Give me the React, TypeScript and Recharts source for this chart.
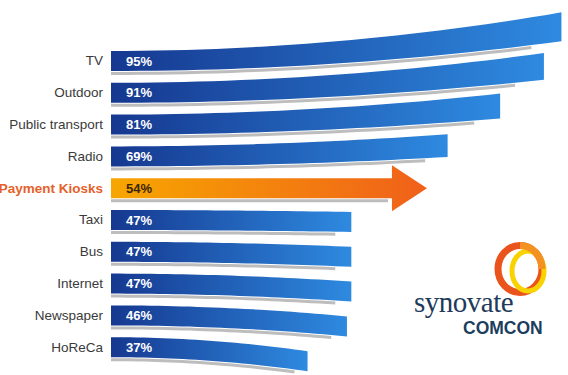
import { BarChart, Bar, XAxis, YAxis } from "recharts";

const categories = ["TV", "Outdoor", "Public transport", "Radio", "Payment Kiosks", "Taxi", "Bus", "Internet", "Newspaper", "HoReCa"];
const shares = [95, 91, 81, 69, 54, 47, 47, 47, 46, 37];
const highlight = "Payment Kiosks";

const data = categories.map((name, i) => ({ name, share: shares[i] }));
const hiIndex = categories.indexOf(highlight);
const FONT = "'Liberation Sans', Arial, sans-serif";

// how much each ribbon bends at its right end (fan effect around the highlighted row)
function bend(index: number) {
  const d = index - hiIndex;
  if (d < 0) return -(3 + 7.8 * -d);
  if (d > 0) return 3 * d - 1;
  return 0;
}

function RibbonBar(props: any) {
  const { x, y, width, height, index, background, payload } = props;
  const x0 = background.x;
  const x1 = x + width;
  const yc = y + height / 2;
  const h0 = height / 2;

  if (payload.name === highlight) {
    const hb = x1 + 10;
    const tip = x1 + 45;
    const d = `M${x0},${yc - h0} L${hb},${yc - h0} L${hb},${yc - 23} L${tip},${yc} L${hb},${yc + 23} L${hb},${yc + h0} L${x0},${yc + h0} Z`;
    return (
      <g>
        <defs>
          <linearGradient id="grad-hi" x1="0" y1="0" x2="1" y2="0">
            <stop offset="0%" stopColor="#f7a600" />
            <stop offset="100%" stopColor="#f0601a" />
          </linearGradient>
        </defs>
        <line x1={x0} y1={yc + h0 + 2.5} x2={hb - 4} y2={yc + h0 + 2.5} stroke="#bdbdbd" strokeWidth={3} />
        <path d={d} fill="url(#grad-hi)" />
        <text x={x0 + 15} y={yc + 4.5} fontFamily={FONT} fontSize={13} fontWeight="bold" fill="#3a2600">
          {payload.share}%
        </text>
      </g>
    );
  }

  const S = bend(index);
  const g = S < 0 ? -S * 0.13 : 0;
  const N = 30;
  const top: string[] = [];
  const bot: string[] = [];
  const shadow: string[] = [];
  for (let i = 0; i <= N; i++) {
    const t = i / N;
    const px = x0 + t * (x1 - x0);
    const c = yc + S * t * t;
    const hh = h0 + g * t * t;
    top.push(`${px},${c - hh}`);
    bot.push(`${px},${c + hh}`);
    if (t <= 0.95) shadow.push(`${px},${c + hh + 2.5}`);
  }
  const d = `M${top.join(" L")} L${bot.reverse().join(" L")} Z`;
  const id = `grad-${index}`;
  return (
    <g>
      <defs>
        <linearGradient id={id} x1="0" y1="0" x2="1" y2="0">
          <stop offset="0%" stopColor="#163890" />
          <stop offset="100%" stopColor="#2e8ae0" />
        </linearGradient>
      </defs>
      <polyline points={shadow.join(" ")} fill="none" stroke="#bdbdbd" strokeWidth={3} />
      <path d={d} fill={`url(#${id})`} />
      <text x={x0 + 15} y={yc + 4.5} fontFamily={FONT} fontSize={13} fontWeight="bold" fill="#ffffff">
        {payload.share}%
      </text>
    </g>
  );
}

function CategoryTick(props: any) {
  const { x, y, payload } = props;
  const hi = payload.value === highlight;
  return (
    <text
      x={x}
      y={y}
      dy={4.5}
      textAnchor="end"
      fontFamily={FONT}
      fontSize={13.5}
      fontWeight={hi ? "bold" : "normal"}
      fill={hi ? "#e5602a" : "#3a3a3a"}
    >
      {payload.value}
    </text>
  );
}

function Logo() {
  return (
    <svg width={568} height={375} style={{ position: "absolute", left: 0, top: 0, pointerEvents: "none" }}>
      <ellipse cx={520} cy={269} rx={22} ry={23.5} fill="none" stroke="#ea531c" strokeWidth={7} />
      <ellipse cx={528} cy={271} rx={16} ry={20} fill="none" stroke="#f8d300" strokeWidth={5} />
      <path d="M520,245.5 A22,23.5 0 0 1 542,269" fill="none" stroke="#f39220" strokeWidth={7} />
      <text x={414} y={312} fontFamily="'Liberation Serif', 'DejaVu Serif', serif" fontSize={29} fill="#1f3a5a" letterSpacing={-0.5}>
        synovate
      </text>
      <text x={463} y={334} fontFamily={FONT} fontSize={17.5} fontWeight="bold" fill="#1b3d5e">
        COMCON
      </text>
    </svg>
  );
}

export default function App() {
  return (
    <div style={{ position: "absolute", left: 0, top: 0, width: 568, height: 375, background: "#ffffff" }}>
      <BarChart width={568} height={375} data={data} layout="vertical" margin={{ top: 45, right: 0, bottom: 12, left: 0 }}>
        <XAxis type="number" domain={[-7.9, 96.5]} hide />
        <YAxis type="category" dataKey="name" width={111} axisLine={false} tickLine={false} tick={<CategoryTick />} interval={0} />
        <Bar dataKey="share" barSize={20} shape={<RibbonBar />} isAnimationActive={false} />
      </BarChart>
      <Logo />
    </div>
  );
}
